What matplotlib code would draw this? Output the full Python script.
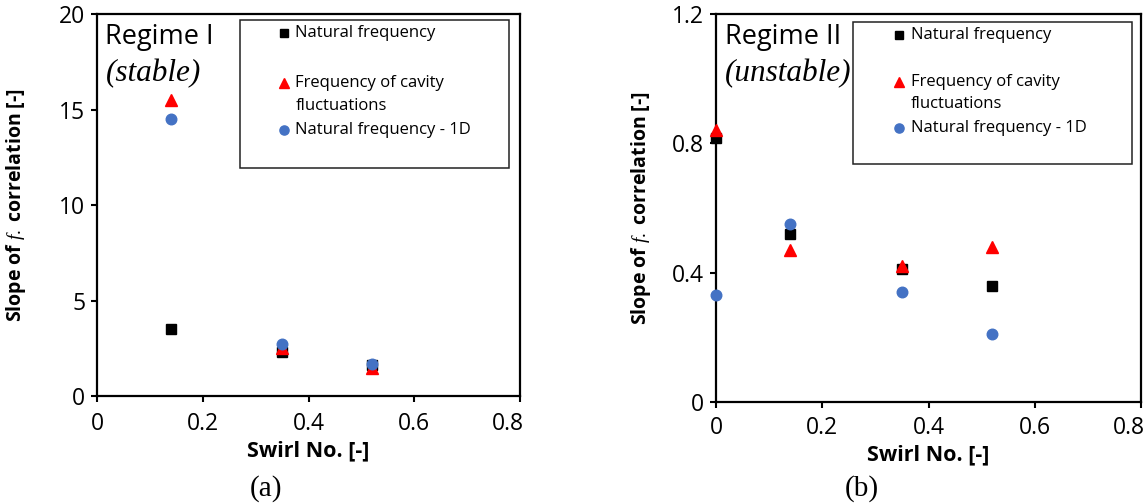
import matplotlib
matplotlib.use("Agg")
import matplotlib.pyplot as plt
from matplotlib.patches import Rectangle
from matplotlib.transforms import ScaledTranslation

plt.rcParams['font.family'] = ['Open Sans', 'DejaVu Sans']
plt.rcParams['mathtext.fontset'] = 'custom'
plt.rcParams['mathtext.it'] = 'Liberation Serif:italic'
plt.rcParams['mathtext.rm'] = 'Liberation Serif'

# Regime I (stable)
swirl_a = [0.14, 0.35, 0.52]
nat_a = [3.5, 2.3, 1.6]
cav_a = [15.5, 2.5, 1.45]
nat1d_a = [14.5, 2.7, 1.65]

# Regime II (unstable)
swirl_b = [0.0, 0.14, 0.35, 0.52]
nat_b = [0.815, 0.52, 0.41, 0.36]
cav_b = [0.84, 0.47, 0.42, 0.48]
nat1d_b = [0.33, 0.55, 0.34, 0.21]

x_ticks = [0, 0.2, 0.4, 0.6, 0.8]
x_ticklabels = ["0", "0.2", "0.4", "0.6", "0.8"]
y_ticks_a = [0, 5, 10, 15, 20]
y_ticklabels_a = ["0", "5", "10", "15", "20"]
y_ticks_b = [0, 0.4, 0.8, 1.2]
y_ticklabels_b = ["0", "0.4", "0.8", "1.2"]

legend_lines = [["Natural frequency"],
                ["Frequency of cavity", "fluctuations"],
                ["Natural frequency - 1D"]]

RED = "#ff0000"
BLUE = "#4472c4"
BLACK = "#000000"

fig = plt.figure(figsize=(11.48, 5.03), dpi=100)
ax_a = fig.add_axes([0.0845, 0.2127, 0.3685, 0.7594])
ax_b = fig.add_axes([0.6237, 0.2008, 0.3702, 0.7714])


def style_axes(ax, yticks, yticklabels, ylim, label_x, xpad):
    ax.set_xlim(0, 0.8)
    ax.set_ylim(*ylim)
    ax.set_xticks(x_ticks)
    ax.set_xticklabels(x_ticklabels)
    ax.set_yticks(yticks)
    ax.set_yticklabels(yticklabels)
    ax.tick_params(direction='out', length=4, width=1.5, labelsize=16.5,
                   top=False, right=False)
    ax.tick_params(axis='y', pad=4.5)
    ax.tick_params(axis='x', pad=xpad)
    for sp in ax.spines.values():
        sp.set_linewidth(1.6)
    # keep the rightmost x label inside the frame edge
    last = ax.get_xticklabels()[-1]
    last.set_horizontalalignment('right')
    last.set_transform(last.get_transform() +
                       ScaledTranslation(3 / 72, 0, fig.dpi_scale_trans))
    ax.set_xlabel("Swirl No. [-]", fontsize=15.5, fontweight='bold',
                  labelpad=3)
    ax.set_ylabel(r"Slope of $\mathit{f.}$ correlation [-]", fontsize=14,
                  fontweight='bold')
    ax.yaxis.set_label_coords(label_x, 0.5)


def draw_series(ax, x, nat, cav, nat1d):
    ax.plot(x, nat, linestyle='none', marker='s', markersize=7.4,
            color=BLACK, clip_on=False, zorder=3)
    ax.plot(x, cav, linestyle='none', marker='^', markersize=8.4,
            color=RED, clip_on=False, zorder=4)
    ax.plot(x, nat1d, linestyle='none', marker='o', markersize=7.6,
            color=BLUE, clip_on=False, zorder=5)


def draw_key(ax, box):
    x0, y0, x1, y1 = box
    ax.add_patch(Rectangle((x0, y0), x1 - x0, y1 - y0, transform=ax.transAxes,
                           fill=False, edgecolor='#222222', linewidth=1.1,
                           zorder=6))
    w, h = x1 - x0, y1 - y0
    mx = x0 + 0.165 * w
    tx = x0 + 0.205 * w
    line_rows = [[0.09], [0.425, 0.578], [0.745]]
    styles = [('s', BLACK, 6.0), ('^', RED, 7.2), ('o', BLUE, 6.6)]
    for (m, c, s), rows, lines in zip(styles, line_rows, legend_lines):
        ax.plot([mx], [y1 - rows[0] * h], marker=m, color=c, markersize=s,
                transform=ax.transAxes, clip_on=False, zorder=7)
        for r, txt in zip(rows, lines):
            ax.text(tx, y1 - r * h, txt, transform=ax.transAxes, fontsize=12,
                    va='center', ha='left', zorder=7)


style_axes(ax_a, y_ticks_a, y_ticklabels_a, (0, 20), -0.163, 7.5)
draw_series(ax_a, swirl_a, nat_a, cav_a, nat1d_a)
ax_a.text(0.02, 0.977, "Regime I", transform=ax_a.transAxes, fontsize=19.5,
          va='top', ha='left')
ax_a.text(0.02, 0.883, "(stable)", transform=ax_a.transAxes, fontsize=22.5,
          va='top', ha='left', family='Liberation Serif', style='italic')
draw_key(ax_a, (0.338, 0.597, 0.975, 0.984))

style_axes(ax_b, y_ticks_b, y_ticklabels_b, (0, 1.2), -0.148, 6)
draw_series(ax_b, swirl_b, nat_b, cav_b, nat1d_b)
ax_b.text(0.02, 0.977, "Regime II", transform=ax_b.transAxes, fontsize=19.5,
          va='top', ha='left')
ax_b.text(0.02, 0.883, "(unstable)", transform=ax_b.transAxes, fontsize=22.5,
          va='top', ha='left', family='Liberation Serif', style='italic')
draw_key(ax_b, (0.323, 0.614, 0.98, 0.979))

fig.text(266 / 1148, 1 - 489 / 503, "(a)", family='Liberation Serif',
         fontsize=21, ha='center', va='center')
fig.text(862 / 1148, 1 - 489 / 503, "(b)", family='Liberation Serif',
         fontsize=21, ha='center', va='center')

fig.savefig("out.png", dpi=100, facecolor='white')
